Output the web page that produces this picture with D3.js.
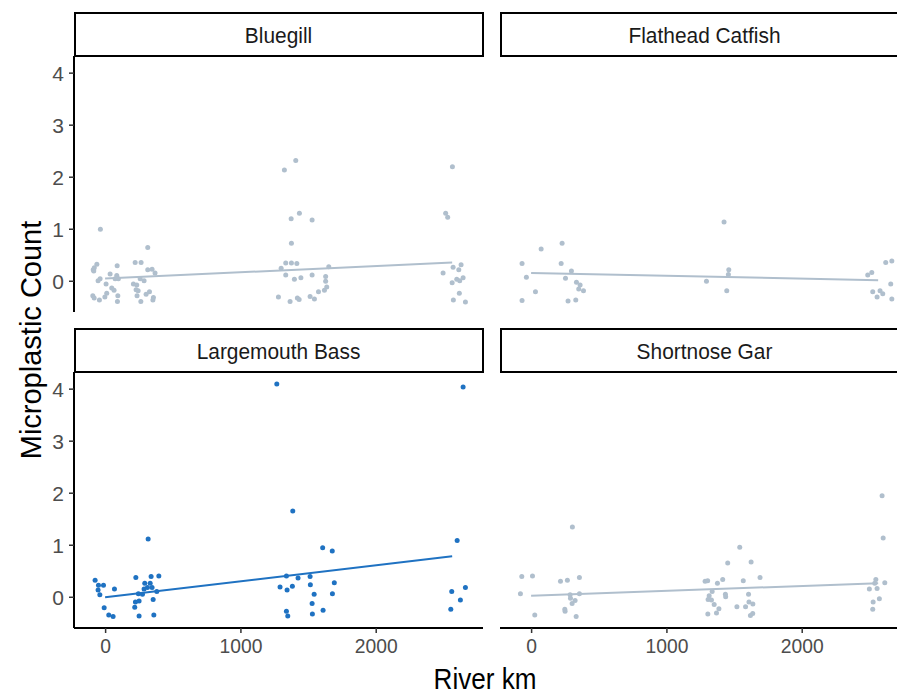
<!DOCTYPE html>
<html>
<head>
<meta charset="utf-8">
<script src="https://cdn.jsdelivr.net/npm/d3@7"></script>
<style>
  html, body { margin: 0; padding: 0; background: #fff; }
  svg { display: block; font-family: "Liberation Sans", Arial, sans-serif; }
</style>
</head>
<body>
<svg id="chart" width="897" height="695"></svg>
<script>
// ---------------- DATA ----------------
const species = ["Bluegill", "Flathead Catfish", "Largemouth Bass", "Shortnose Gar"];
const highlighted = "Largemouth Bass";
const xTicks = [0, 1000, 2000];
const yTicks = [0, 1, 2, 3, 4];
const trendKm = [0, 2565];

const bluegillKm = [-35,315,-61,-80,-88,-84,89,222,266,315,347,369,-37,-52,37,86,74,98,7,49,66,209,234,229,244,259,288,-91,-81,-42,-2,12,94,91,236,264,328,303,357,353,
  1325,1409,1375,1436,1530,1377,1335,1377,1417,1301,1653,1335,1399,1447,1530,1630,1630,1638,1621,1577,1281,1367,1421,1434,1515,1547,
  2567,2517,2532,2498,2572,2631,2614,2599,2621,2646,2565,2618,2574,2663];
const bluegillCount = [0.99,0.64,0.32,0.25,0.21,0.19,0.29,0.35,0.35,0.21,0.22,0.15,0.04,0.0,0.13,0.10,0.04,0.04,-0.06,-0.14,-0.18,-0.06,-0.08,-0.17,-0.19,0.04,0.0,-0.29,-0.33,-0.37,-0.31,-0.24,-0.29,-0.40,-0.29,-0.40,-0.21,-0.26,-0.32,-0.37,
  2.13,2.31,1.19,1.30,1.17,0.72,0.34,0.34,0.33,0.24,0.27,0.11,0.03,0.06,0.11,0.08,-0.01,-0.12,-0.18,-0.21,-0.31,-0.40,-0.33,-0.36,-0.30,-0.35,
  2.19,1.30,1.22,0.15,0.26,0.31,0.21,0.03,0.0,0.06,-0.04,-0.24,-0.37,-0.41];
const bluegillTrend = [0.045, 0.35];

const flatheadKm = [-67,74,229,222,298,-35,254,335,362,352,387,32,-67,273,330,
  1426,1461,1458,1296,1446,
  2488,2518,2621,2666,2658,2525,2579,2599,2557,2666];
const flatheadCount = [0.33,0.61,0.72,0.33,0.19,0.07,0.05,-0.03,-0.08,-0.16,-0.19,-0.21,-0.38,-0.39,-0.37,
  1.13,0.21,0.12,-0.01,-0.19,
  0.11,0.16,0.35,0.38,-0.06,-0.21,-0.19,-0.25,-0.31,-0.35];
const flatheadTrend = [0.15, 0.01];

const bassKm = [318,-74,-49,-12,-52,-39,69,-7,27,59,227,340,397,293,333,313,347,288,246,276,382,224,251,219,355,251,360,
  1269,1387,1608,1679,1340,1426,1515,1293,1345,1384,1517,1545,1694,1680,1530,1340,1350,1532,1611,
  2646,2602,2562,2663,2626,2555];
const bassCount = [1.11,0.32,0.22,0.22,0.13,0.04,0.15,-0.21,-0.35,-0.38,0.37,0.39,0.40,0.26,0.26,0.18,0.18,0.15,0.06,0.05,0.10,-0.10,-0.08,-0.20,-0.05,-0.37,-0.35,
  4.09,1.65,0.94,0.88,0.40,0.36,0.39,0.19,0.13,0.20,0.23,0.05,0.27,0.06,-0.13,-0.28,-0.37,-0.33,-0.26,
  4.03,1.08,0.10,0.18,-0.06,-0.24];
const bassTrend = [-0.01, 0.78];

const garKm = [305,-69,10,-79,27,217,268,357,288,357,291,325,303,249,251,333,
  1542,1453,1626,1286,1305,1377,1416,1568,1692,1338,1436,1438,1607,1316,1308,1333,1353,1388,1521,1585,1610,1639,1306,1370,1621,1638,
  2594,2602,2548,2614,2500,2557,2540,2528,2574,2525];
const garCount = [1.34,0.39,0.40,0.06,-0.35,0.30,0.32,0.37,0.04,0.06,-0.03,-0.07,-0.13,-0.24,-0.28,-0.38,
  0.95,0.65,0.67,0.30,0.31,0.26,0.33,0.31,0.37,0.10,0.05,0.0,0.05,0.02,-0.05,-0.06,-0.15,-0.23,-0.19,-0.19,-0.10,-0.14,-0.33,-0.31,-0.36,-0.32,
  1.94,1.13,0.33,0.27,0.15,0.16,0.26,-0.10,-0.04,-0.24];
const garTrend = [0.02, 0.26];

// ---------------- BUILD ----------------
const seriesKm = [bluegillKm, flatheadKm, bassKm, garKm];
const seriesCount = [bluegillCount, flatheadCount, bassCount, garCount];
const seriesTrend = [bluegillTrend, flatheadTrend, bassTrend, garTrend];

const greyCol = "#b0bfcd";
const blueCol = "#1f72c2";

const svg = d3.select("#chart");
const panelW = 409, panelH = 256, stripH = 43;
const colX = [74, 500];
const rowTop = [13, 329];

const x = d3.scaleLinear().domain([-230, 2793]).range([0, panelW]);
const y = d3.scaleLinear().domain([-0.6, 4.32]).range([panelH, 0]);

species.forEach((sp, i) => {
  const col = i % 2, row = Math.floor(i / 2);
  const px = colX[col], stripTop = rowTop[row], py = stripTop + stripH;
  const color = sp === highlighted ? blueCol : greyCol;

  // strip
  svg.append("rect")
    .attr("x", px + 1).attr("y", stripTop)
    .attr("width", panelW - 1).attr("height", stripH)
    .attr("fill", "#fff").attr("stroke", "#000").attr("stroke-width", 2);
  svg.append("text")
    .attr("transform", `translate(${px + panelW / 2},${stripTop + stripH / 2 + 8}) scale(0.95,1)`)
    .attr("text-anchor", "middle")
    .attr("font-size", 22).attr("fill", "#1a1a1a")
    .text(sp);

  const g = svg.append("g").attr("transform", `translate(${px},${py})`);

  // points
  const pts = seriesKm[i].map((k, j) => ({ k, c: seriesCount[i][j] }));
  g.selectAll("circle").data(pts).enter().append("circle")
    .attr("cx", d => x(d.k)).attr("cy", d => y(d.c))
    .attr("r", 2.5).attr("fill", color);

  // trend line
  const tr = trendKm.map((k, j) => ({ k, c: seriesTrend[i][j] }));
  g.append("path").datum(tr)
    .attr("d", d3.line().x(d => x(d.k)).y(d => y(d.c)))
    .attr("fill", "none").attr("stroke", color).attr("stroke-width", 2);

  // y axis on left column
  if (col === 0) {
    const ya = g.append("g").call(d3.axisLeft(y).tickValues(yTicks).tickSize(5).tickPadding(5).tickFormat(d3.format("d")));
    ya.select(".domain").attr("stroke", "#000").attr("stroke-width", 2).attr("d", `M0,0V${panelH}`);
    ya.selectAll(".tick line").attr("stroke", "#333").attr("stroke-width", 1.5);
    ya.selectAll(".tick text").attr("font-size", 21).attr("fill", "#4d4d4d")
      .attr("font-family", "Liberation Sans, Arial, sans-serif").attr("dy", "0.36em");
  }
  // x axis on bottom row
  if (row === 1) {
    const xa = g.append("g").attr("transform", `translate(0,${panelH})`)
      .call(d3.axisBottom(x).tickValues(xTicks).tickSize(5).tickPadding(5).tickFormat(d3.format("d")));
    xa.select(".domain").attr("stroke", "#000").attr("stroke-width", 2).attr("d", `M0,0H${panelW}`);
    xa.selectAll(".tick line").attr("stroke", "#333").attr("stroke-width", 1.5);
    xa.selectAll(".tick text").attr("font-size", 21).attr("fill", "#4d4d4d")
      .attr("font-family", "Liberation Sans, Arial, sans-serif").attr("transform", "scale(0.92,1)");
  }
});

// axis titles
svg.append("text")
  .attr("transform", "translate(41,340) rotate(-90)")
  .attr("text-anchor", "middle").attr("font-size", 29).attr("fill", "#000")
  .text("Microplastic Count");
svg.append("text")
  .attr("transform", "translate(485,689) scale(0.9,1)")
  .attr("text-anchor", "middle").attr("font-size", 29).attr("fill", "#000")
  .text("River km");
</script>
</body>
</html>
